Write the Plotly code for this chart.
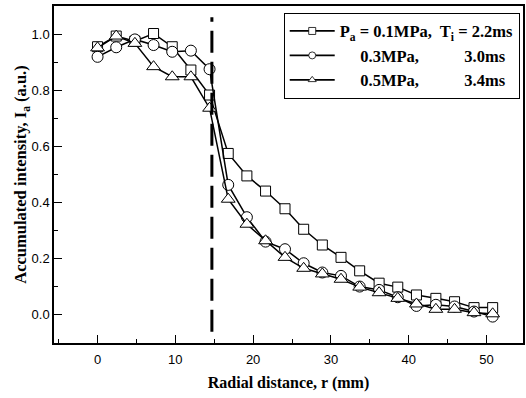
import plotly.graph_objects as go

# radial positions (mm)
r_mm = [0.0, 2.4, 4.8, 7.2, 9.6, 12.0, 14.4, 16.8, 19.2, 21.6, 24.1, 26.5,
        28.9, 31.3, 33.7, 36.2, 38.6, 41.0, 43.5, 45.9, 48.4, 50.8]

# accumulated intensity for each injection pressure
ia_01 = [0.955, 0.993, 0.975, 1.002, 0.955, 0.872, 0.783, 0.575, 0.495, 0.441, 0.378, 0.305,
         0.249, 0.205, 0.157, 0.113, 0.099, 0.071, 0.059, 0.047, 0.026, 0.026]
ia_03 = [0.919, 0.953, 0.981, 0.961, 0.937, 0.941, 0.875, 0.463, 0.348, 0.261, 0.234, 0.184,
         0.151, 0.139, 0.101, 0.089, 0.063, 0.032, 0.036, 0.030, 0.012, -0.006]
ia_05 = [0.951, 0.993, 0.967, 0.884, 0.848, 0.848, 0.736, 0.412, 0.323, 0.264, 0.205, 0.166,
         0.146, 0.127, 0.099, 0.079, 0.059, 0.039, 0.020, 0.020, 0.008, 0.004]

legend_names = [
    "P<sub>a</sub> = 0.1MPa,\u00a0 T<sub>i</sub> = 2.2ms",
    "\u00a0" * 5 + "0.3MPa," + "\u00a0" * 11 + "3.0ms",
    "\u00a0" * 5 + "0.5MPa," + "\u00a0" * 11 + "3.4ms",
]
symbols = ["square", "circle", "triangle-up"]
sizes = [10, 11, 12]
series = [ia_01, ia_03, ia_05]

# position of the dashed reference line (mm)
ref_line_x = 14.7

SERIF = "Liberation Serif, Times New Roman"

fig = go.Figure()
for name, ys, sym, sz in zip(legend_names, series, symbols, sizes):
    fig.add_trace(go.Scatter(
        x=r_mm, y=ys, name=name, mode="lines+markers", showlegend=False,
        line=dict(color="black", width=1.5),
        marker=dict(symbol=sym, size=sz, color="white",
                    line=dict(color="black", width=1)),
    ))
# legend-only entries with smaller symbols (no data)
for name, sym in zip(legend_names, symbols):
    fig.add_trace(go.Scatter(
        x=[None], y=[None], name=name, mode="lines+markers",
        line=dict(color="black", width=1.8),
        marker=dict(symbol=sym, size=7, color="white",
                    line=dict(color="black", width=0.8)),
    ))

fig.add_shape(type="line", xref="x", yref="y",
              x0=ref_line_x, x1=ref_line_x, y0=-0.06, y1=1.06,
              line=dict(color="black", width=3, dash="22px,9px"))

axis_common = dict(
    showgrid=False, zeroline=False, showline=True, linecolor="black", linewidth=1.5,
    mirror=True, ticks="inside", ticklen=8, tickwidth=1.2, tickcolor="black",
    automargin=False,
    tickfont=dict(family="Liberation Sans, Arial", size=13, color="black"),
)

fig.update_layout(
    width=526, height=398,
    margin=dict(l=54, r=3, t=6, b=55),
    paper_bgcolor="white", plot_bgcolor="white",
    showlegend=True,
    legend=dict(
        x=0.993, y=0.98, xanchor="right", yanchor="top",
        bgcolor="white", bordercolor="black", borderwidth=1,
        font=dict(family=SERIF, size=16.5, color="black", weight="bold"),
        tracegroupgap=0, itemwidth=45,
    ),
    xaxis=dict(
        range=[-5.6, 54.7], dtick=10, tick0=0,
        minor=dict(dtick=5, ticks="inside", ticklen=4, tickcolor="black"),
        ticklabelstandoff=4,
        title=dict(text="Radial distance, r (mm)",
                   font=dict(family=SERIF, size=16, color="black", weight="bold"),
                   standoff=10),
        **axis_common,
    ),
    yaxis=dict(
        range=[-0.1, 1.1], dtick=0.2, tick0=0, tickformat=".1f",
        minor=dict(dtick=0.1, ticks="inside", ticklen=4, tickcolor="black"),
        title=dict(text="Accumulated intensity, I<sub>a</sub> (a.u.)",
                   font=dict(family=SERIF, size=16.5, color="black", weight="bold"),
                   standoff=0),
        **axis_common,
    ),
)

fig.write_html("out.html", config={"displayModeBar": False},
               post_script="document.body.style.margin='0';")
